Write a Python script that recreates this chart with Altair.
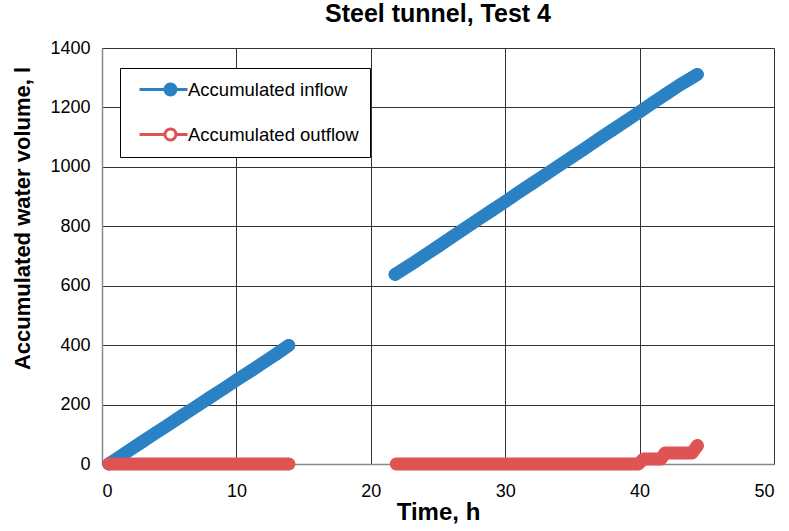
import altair as alt
import pandas as pd

# Series names
INFLOW = "Accumulated inflow"
OUTFLOW = "Accumulated outflow"

# Accumulated inflow, first run (time in h, volume in l)
inflow_a_time = [0.5, 1, 2, 3, 4, 5, 6, 7, 8, 9, 10, 11, 12, 13, 13.9]
inflow_a_vol = [0, 15, 45, 75, 105, 134, 164, 193, 223, 252, 282, 311, 341, 371, 399]

# Accumulated inflow, second run
inflow_b_time = [21.8, 23, 24, 25, 26, 27, 28, 29, 30, 31, 32, 33, 34, 35, 36,
                 37, 38, 39, 40, 41, 42, 43, 44, 44.3]
inflow_b_vol = [638, 672, 702, 732, 763, 793, 823, 853, 883, 914, 944, 974, 1004,
                1034, 1064, 1095, 1125, 1155, 1185, 1216, 1246, 1276, 1303, 1311]

# Accumulated outflow, first run
outflow_a_time = [0.5, 3, 6, 9, 12, 13.9]
outflow_a_vol = [0, 0, 0, 0, 0, 0]

# Accumulated outflow, second run
outflow_b_time = [21.9, 25, 30, 35, 39.9, 40.3, 41.6, 41.9, 43.9, 44.3]
outflow_b_vol = [0, 0, 0, 0, 0, 17, 17, 37, 37, 62]

BLUE = "#2A82C4"
RED = "#DE5353"
FONT = "Liberation Sans"

rows = []
for series, run, ts, vs in [
    (INFLOW, "in-1", inflow_a_time, inflow_a_vol),
    (INFLOW, "in-2", inflow_b_time, inflow_b_vol),
    (OUTFLOW, "out-1", outflow_a_time, outflow_a_vol),
    (OUTFLOW, "out-2", outflow_b_time, outflow_b_vol),
]:
    for t, v in zip(ts, vs):
        rows.append({"series": series, "run": run, "time": t, "volume": v})
df = pd.DataFrame(rows)

domain = [INFLOW, OUTFLOW]

x = alt.X(
    "time:Q",
    scale=alt.Scale(domain=[0, 50], nice=False),
    axis=alt.Axis(
        title="Time, h", values=[0, 10, 20, 30, 40, 50], format="d",
        titleY=48, titleBaseline="middle",
    ),
)
y = alt.Y(
    "volume:Q",
    scale=alt.Scale(domain=[0, 1400], nice=False),
    axis=alt.Axis(
        title="Accumulated water volume, l",
        values=list(range(0, 1401, 200)), format="d",
        titleX=-80, titleY=170, titleBaseline="middle", titleAlign="center",
    ),
)

# Legend symbol: a short line with a circle marker on it
legend_symbol = (
    "M-0.22,0H2.61M3.83,0H5.11"
    "M2.61,0A0.61,0.61 0 1,1 3.83,0A0.61,0.61 0 1,1 2.61,0Z"
)

legend = alt.Legend(
    title=None,
    orient="none",
    legendX=18,
    legendY=20,
    symbolType=legend_symbol,
    symbolSize=324,
    symbolStrokeWidth=3,
    labelOffset=36,
    labelLimit=400,
    rowPadding=22,
    padding=11,
    strokeColor="black",
    fillColor="white",
    labelFontSize=18.5,
    labelFont=FONT,
    labelColor="black",
)

markers = alt.Chart(df).mark_point(
    filled=True, shape="circle", size=110, strokeWidth=2, opacity=1
).encode(
    x=x,
    y=y,
    stroke=alt.Stroke("series:N", scale=alt.Scale(domain=domain, range=[BLUE, RED]), legend=legend),
    fill=alt.Fill("series:N", scale=alt.Scale(domain=domain, range=[BLUE, "white"]), legend=legend),
)

lines = alt.Chart(df).mark_line(
    strokeWidth=13, strokeCap="round", strokeJoin="round"
).encode(
    x=x,
    y=y,
    stroke=alt.Stroke("series:N", scale=alt.Scale(domain=domain, range=[BLUE, RED]), legend=None),
    detail="run:N",
    order="time:Q",
)

chart = (
    alt.layer(markers, lines)
    .properties(
        width=672,
        height=416,
        autosize=alt.AutoSizeParams(type="none"),
        padding={"left": 102, "top": 48, "right": 15, "bottom": 67},
        title=alt.TitleParams(
            "Steel tunnel, Test 4", fontSize=25, font=FONT, fontWeight="bold",
            anchor="middle", frame="group", offset=-8, baseline="alphabetic", color="black",
        ),
    )
    .configure_view(stroke=None)
    .configure_axis(
        grid=True,
        gridColor="#333333",
        gridWidth=1,
        gridOpacity=1,
        domainColor="#888888",
        domainWidth=1.5,
        ticks=False,
        labelFont=FONT,
        labelFontSize=18,
        labelColor="black",
        titleFont=FONT,
        titleFontWeight="bold",
        titleColor="black",
    )
    .configure_axisX(labelPadding=18, titleFontSize=24)
    .configure_axisY(labelPadding=12, titleFontSize=22)
)

chart.save("out.html", embed_options={"renderer": "svg", "actions": False})
